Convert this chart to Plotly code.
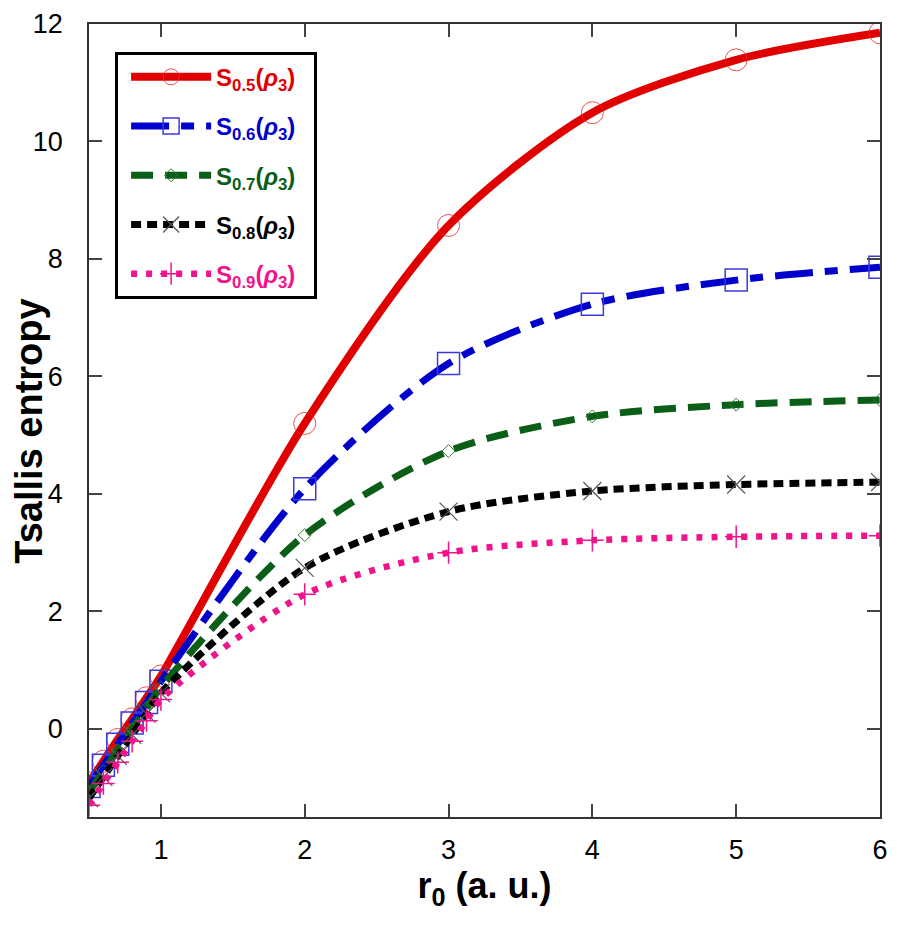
import plotly.graph_objects as go

# r0 grid (a. u.)
r0 = [0.5, 0.6, 0.7, 0.8, 0.9, 1.0, 2, 3, 4, 5, 6]

# Tsallis entropy S_q(rho_3)
s05 = [-0.92, -0.55, -0.18, 0.17, 0.53, 0.90, 5.20, 8.57, 10.49, 11.39, 11.85]
s06 = [-0.98, -0.62, -0.26, 0.10, 0.45, 0.81, 4.09, 6.22, 7.23, 7.64, 7.86]
s07 = [-1.08, -0.72, -0.36, 0.00, 0.36, 0.71, 3.30, 4.73, 5.32, 5.52, 5.60]
s08 = [-1.18, -0.82, -0.46, -0.10, 0.26, 0.61, 2.74, 3.70, 4.05, 4.16, 4.20]
s09 = [-1.30, -0.93, -0.57, -0.21, 0.14, 0.50, 2.29, 3.00, 3.21, 3.27, 3.29]

qs = ["0.5", "0.6", "0.7", "0.8", "0.9"]
series = [s05, s06, s07, s08, s09]

colors = ["#e00000", "#0000cc", "#0b5e17", "#000000", "#f0138b"]
dashes = ["solid", "38px,12px,13px,12px", "22px,12px", "10px,6px", "6px,9px"]
widths = [8, 7, 7, 7, 6.5]
symbols = ["circle-open", "square-open", "diamond-open", "x-thin-open", "cross-thin-open"]
msizes = [22, 22, 10, 18, 16]
mcolors = ["rgba(230,40,40,0.8)", "#3a3ae0", "#2e7d32", "#555555", "#f0138b"]
mwidths = [1, 1.5, 1, 1.2, 1.5]

fig = go.Figure()
for i in range(len(qs)):
    name = ('<span style="color:%s">S<sub>%s</sub>(<i>ρ</i><sub>3</sub>)</span>\u00a0\u00a0'
            % (colors[i], qs[i]))
    fig.add_trace(go.Scatter(
        x=r0, y=series[i], name=name, mode="lines+markers",
        line=dict(color=colors[i], width=widths[i], dash=dashes[i],
                  shape="spline", smoothing=0.8),
        marker=dict(symbol=symbols[i], size=msizes[i],
                    line=dict(color=mcolors[i], width=mwidths[i]),
                    color=mcolors[i]),
        legendgroup=qs[i],
    ))

axis_common = dict(
    showline=True, linecolor="#333333", linewidth=1.5, mirror="allticks",
    ticks="inside", ticklen=13, tickwidth=1.5, tickcolor="#444444",
    showgrid=False, zeroline=False, automargin=False,
    tickfont=dict(family="Liberation Sans", size=27, color="black"),
)

fig.update_xaxes(range=[0.5, 6], tickvals=[1, 2, 3, 4, 5, 6],
                 ticklabelstandoff=8,
                 title=dict(text="<b>r<sub>0</sub> (a. u.)</b>",
                            font=dict(family="Liberation Sans", size=36, color="black"),
                            standoff=8),
                 **axis_common)
fig.update_yaxes(range=[-1.5, 12], tickvals=[0, 2, 4, 6, 8, 10, 12],
                 ticklabelstandoff=19, **axis_common)

# y title as an annotation so it sits clear of the tick labels
fig.add_annotation(text="<b>Tsallis entropy</b>", xref="paper", yref="paper",
                   x=-0.076, y=0.487, xanchor="center", yanchor="middle",
                   textangle=-90, showarrow=False, borderpad=0,
                   font=dict(family="Liberation Sans", size=38, color="black"))

# page body adds an 8px margin, so the figure is drawn 8px smaller
fig.update_layout(
    width=889, height=917,
    margin=dict(l=81, r=17, t=16, b=108),
    plot_bgcolor="white", paper_bgcolor="white",
    legend=dict(x=0.033, y=0.965, xanchor="left", yanchor="top",
                bordercolor="black", borderwidth=3, bgcolor="white",
                font=dict(family="Liberation Sans", size=24, color="black",
                          weight="bold"),
                tracegroupgap=15, itemwidth=80, indentation=8),
)

fig.write_html("out.html")
